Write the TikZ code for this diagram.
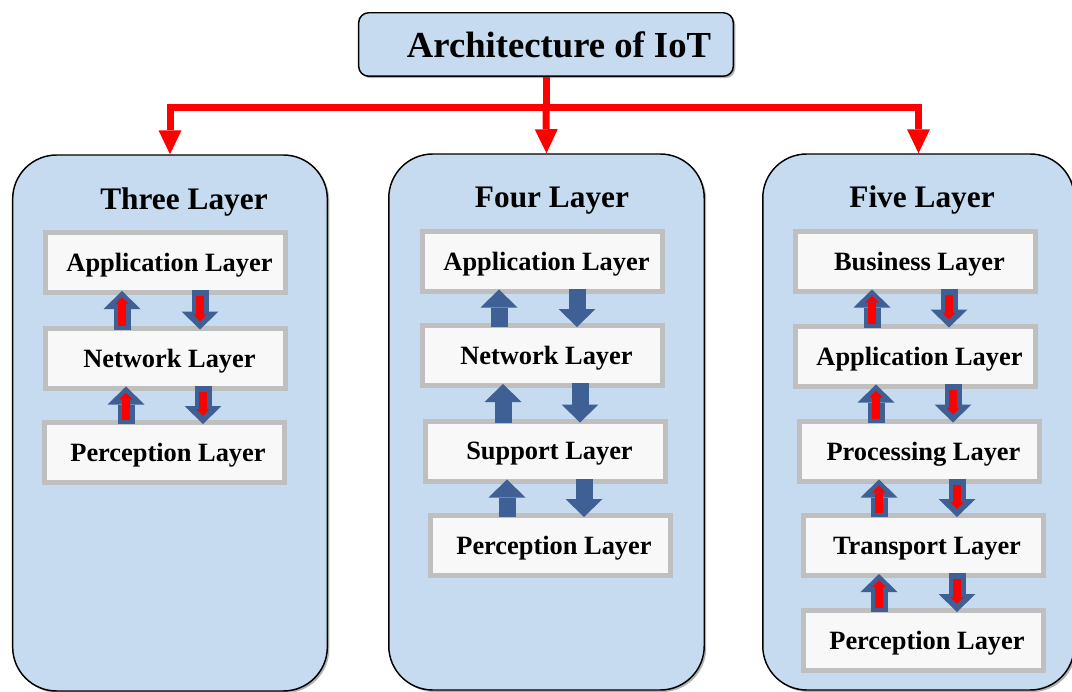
\documentclass[tikz,border=0pt]{standalone}
\usepackage{fontspec}
\setmainfont{Liberation Serif}
\usetikzlibrary{arrows.meta,calc,shadows}
\definecolor{boxblue}{RGB}{198,219,239}
\definecolor{arrblue}{RGB}{62,96,148}
\definecolor{layergray}{RGB}{191,191,191}
\definecolor{layerfill}{RGB}{248,248,248}
\definecolor{iotred}{RGB}{255,0,0}
\newcommand\linkblue[4]{%
  \draw[blkarrow] ($(#3,0 |- #2.north)+(0,4)$) -- ($(#3,0 |- #1.south)+(0,-4)$);
  \draw[blkarrow] ($(#4,0 |- #1.south)+(0,-5)$) -- ($(#4,0 |- #2.north)+(0,4)$);}
\newcommand\linkred[4]{%
  \linkblue{#1}{#2}{#3}{#4}%
  \draw[inarrow] ($(#3,0 |- #2.north)+(0,0)$) -- ($(#3,0 |- #1.south)+(0,2)$);
  \draw[inarrow] ($(#4,0 |- #1.south)+(0,1)$) -- ($(#4,0 |- #2.north)+(0,-4)$);}
\begin{document}
\begin{tikzpicture}[x=0.75pt,y=-0.75pt,
  softshadow/.style={drop shadow={shadow xshift=1.5pt,shadow yshift=-1.5pt,opacity=0.3,fill=black}},
  group/.style={draw=black,line width=1.1pt,fill=boxblue,rounded corners=33pt,
    minimum height=402pt,inner sep=0pt,softshadow},
  titlebox/.style={draw=black,line width=1.1pt,fill=boxblue,rounded corners=7.5pt,
    minimum width=281pt,minimum height=47.6pt,inner sep=0pt,softshadow,text depth=0pt,
    font=\fontsize{27.5}{32}\selectfont\bfseries},
  grouptitle/.style={font=\fontsize{23.5}{28}\selectfont\bfseries,inner sep=0pt},
  layer/.style={draw=layergray,fill=layerfill,line width=3.75pt,minimum width=180pt,
    minimum height=45pt,inner sep=0pt,text depth=0pt,
    execute at begin node=\hspace*{6pt},
    font=\fontsize{19.8}{24}\selectfont\bfseries},
  redline/.style={draw=iotred,line width=5.25pt},
  redtip/.style={-{Triangle[width=17.25pt,length=18pt,line width=0pt]}},
  blkarrow/.style={draw=arrblue,line width=12.75pt,-{Triangle[width=27.75pt,length=13.5pt,line width=0pt]}},
  inarrow/.style={draw=iotred,line width=6pt,-{Triangle[width=10pt,length=5.25pt,line width=0pt]}}]
\useasboundingbox (0,0) rectangle (1072,692);
\clip (0,0) rectangle (1072,692);
\fill[white] (0,0) rectangle (1072,692);
% title
\node[titlebox] (title) at (546,44.5) {\hspace*{19.5pt}Architecture of IoT};
% group boxes
\node[group,minimum width=236pt] (b1) at (170,423) {};
\node[group,minimum width=236.6pt] (b2) at (546.5,422) {};
\node[group,minimum width=233.6pt] (b3) at (918.5,422) {};
% red connector
\coordinate (hub) at (547,108);
\draw[redline] (title.south) -- (title.south |- hub);
\draw[redline,redtip] (hub) -| (b1.north);
\draw[redline,redtip] (hub) -| (b3.north);
\draw[redline,redtip] (title.south |- hub) -- (b2.north);
% group titles
\node[grouptitle] (t1) at (184,202) {Three Layer};
\node[grouptitle] (t2) at (552,201) {Four Layer};
\node[grouptitle] (t3) at (922,200) {Five Layer};
% three layer
\node[layer] (a3) at (165.5,262.5) {Application Layer};
\node[layer] (n3) at (165.5,358) {Network Layer};
\node[layer] (p3) at (164,452.5) {Perception Layer};
% four layer
\node[layer] (a4) at (542.5,261) {Application Layer};
\node[layer] (n4) at (542.5,355.5) {Network Layer};
\node[layer] (s4) at (545.5,451) {Support Layer};
\node[layer] (p4) at (550,545.5) {Perception Layer};
% five layer
\node[layer] (bu5) at (915.5,261) {Business Layer};
\node[layer] (a5) at (915.5,356) {Application Layer};
\node[layer] (pr5) at (919.5,451) {Processing Layer};
\node[layer] (tr5) at (923,545.5) {Transport Layer};
\node[layer] (p5) at (923,640.5) {Perception Layer};
% arrows
\linkred{a3}{n3}{122}{200}
\linkred{n3}{p3}{126}{203}
\linkblue{a4}{n4}{499}{577}
\linkblue{n4}{s4}{503}{580}
\linkblue{s4}{p4}{507}{584}
\linkred{bu5}{a5}{872}{949}
\linkred{a5}{pr5}{876}{953}
\linkred{pr5}{tr5}{879}{957}
\linkred{tr5}{p5}{879}{957}
\end{tikzpicture}
\end{document}
